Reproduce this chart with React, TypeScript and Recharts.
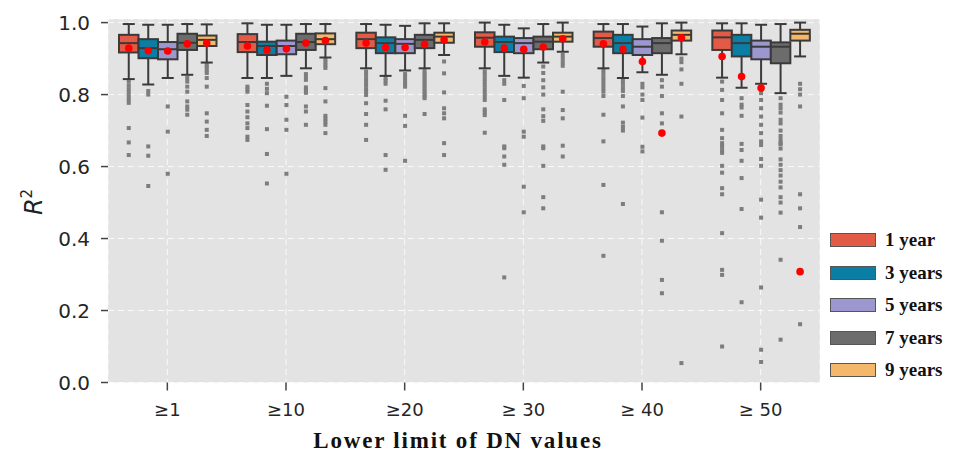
import { BarChart, Bar, XAxis, YAxis, CartesianGrid } from 'recharts'

const GROUPS = ['≥1', '≥10', '≥20', '≥ 30', '≥ 40', '≥ 50']
const SERIES = ['1 year', '3 years', '5 years', '7 years', '9 years']
const COLORS = ['#E35A46', '#0A7EA4', '#9D97D0', '#6C6C6C', '#F3B869']
const Y_TICKS = [0, 0.2, 0.4, 0.6, 0.8, 1.0]

// box stats, one row per series, one value per group
const HIGH = [
  [0.996, 0.998, 0.996, 1.0, 0.996, 0.998],
  [0.994, 0.994, 0.994, 0.994, 0.996, 0.998],
  [0.994, 0.994, 0.991, 0.984, 0.989, 0.994],
  [0.996, 0.996, 0.998, 0.996, 0.998, 0.996],
  [0.995, 0.996, 0.998, 1.0, 1.0, 1.0],
]
const Q3 = [
  [0.966, 0.968, 0.972, 0.973, 0.975, 0.978],
  [0.954, 0.947, 0.959, 0.961, 0.966, 0.966],
  [0.946, 0.95, 0.954, 0.957, 0.954, 0.95],
  [0.969, 0.969, 0.966, 0.961, 0.957, 0.945],
  [0.964, 0.97, 0.972, 0.972, 0.978, 0.98],
]
const MEDIAN = [
  [0.943, 0.946, 0.954, 0.958, 0.957, 0.959],
  [0.929, 0.935, 0.943, 0.946, 0.943, 0.943],
  [0.926, 0.935, 0.941, 0.943, 0.933, 0.933],
  [0.944, 0.946, 0.952, 0.947, 0.943, 0.933],
  [0.952, 0.954, 0.961, 0.961, 0.966, 0.969],
]
const Q1 = [
  [0.917, 0.918, 0.929, 0.933, 0.933, 0.924],
  [0.901, 0.91, 0.915, 0.918, 0.915, 0.906],
  [0.898, 0.912, 0.915, 0.915, 0.91, 0.898],
  [0.924, 0.924, 0.929, 0.926, 0.915, 0.887],
  [0.935, 0.94, 0.944, 0.947, 0.95, 0.95],
]
const LOW = [
  [0.843, 0.846, 0.873, 0.873, 0.873, 0.847],
  [0.828, 0.846, 0.852, 0.852, 0.846, 0.819],
  [0.846, 0.852, 0.867, 0.847, 0.862, 0.83],
  [0.855, 0.873, 0.873, 0.889, 0.855, 0.804],
  [0.889, 0.903, 0.91, 0.919, 0.912, 0.906],
]
const MEAN: (number | null)[][] = [
  [0.929, 0.935, 0.943, 0.946, 0.941, 0.906],
  [0.922, 0.924, 0.931, 0.929, 0.926, 0.85],
  [0.921, 0.927, 0.931, 0.926, 0.892, 0.818],
  [0.941, 0.943, 0.94, 0.932, 0.693, null],
  [0.943, 0.95, 0.952, 0.955, 0.958, 0.308],
]

// outliers per series, one list per group
const OUT_1Y = [
  [0.836, 0.825, 0.815, 0.805, 0.795, 0.785, 0.777, 0.707, 0.667, 0.632],
  [0.822, 0.815, 0.808, 0.771, 0.753, 0.737, 0.72, 0.707, 0.683, 0.674],
  [0.864, 0.855, 0.845, 0.835, 0.825, 0.815, 0.808, 0.799, 0.776, 0.746, 0.716, 0.674],
  [0.864, 0.855, 0.845, 0.835, 0.825, 0.815, 0.805, 0.795, 0.785, 0.759, 0.751, 0.743, 0.694],
  [0.868, 0.858, 0.848, 0.838, 0.828, 0.818, 0.808, 0.796, 0.744, 0.67, 0.549, 0.352],
  [0.836, 0.813, 0.785, 0.748, 0.702, 0.679, 0.665, 0.655, 0.645, 0.638, 0.602, 0.583, 0.54, 0.523, 0.415, 0.313, 0.299, 0.1],
]
const OUT_3Y = [
  [0.81, 0.8, 0.656, 0.63, 0.546],
  [0.83, 0.816, 0.804, 0.769, 0.704, 0.635, 0.553],
  [0.846, 0.838, 0.83, 0.783, 0.759, 0.632, 0.591],
  [0.84, 0.83, 0.785, 0.656, 0.651, 0.628, 0.605, 0.292],
  [0.84, 0.83, 0.82, 0.81, 0.796, 0.767, 0.722, 0.71, 0.7, 0.496],
  [0.79, 0.772, 0.764, 0.741, 0.663, 0.646, 0.616, 0.568, 0.482, 0.223],
]
const OUT_5Y = [
  [0.767, 0.697, 0.58],
  [0.794, 0.771, 0.73, 0.702, 0.58],
  [0.857, 0.848, 0.838, 0.83, 0.822, 0.741, 0.713, 0.616],
  [0.824, 0.79, 0.697, 0.683, 0.544, 0.473],
  [0.83, 0.82, 0.8, 0.785, 0.736, 0.655, 0.642],
  [0.804, 0.785, 0.762, 0.739, 0.716, 0.693, 0.67, 0.66, 0.621, 0.602, 0.508, 0.458, 0.264, 0.091, 0.057],
]
const OUT_7Y = [
  [0.846, 0.836, 0.822, 0.808, 0.781, 0.767, 0.758, 0.744],
  [0.857, 0.849, 0.841, 0.82, 0.812, 0.805, 0.767, 0.753, 0.716],
  [0.865, 0.858, 0.851, 0.844, 0.837, 0.83, 0.823, 0.816, 0.809, 0.802, 0.795, 0.79, 0.746],
  [0.878, 0.86, 0.84, 0.82, 0.8, 0.759, 0.74, 0.727, 0.656, 0.651, 0.602, 0.515, 0.484],
  [0.84, 0.822, 0.796, 0.748, 0.72, 0.473, 0.394, 0.285, 0.248],
  [0.79, 0.772, 0.762, 0.75, 0.73, 0.72, 0.7, 0.685, 0.674, 0.665, 0.662, 0.65, 0.62, 0.605, 0.59, 0.575, 0.558, 0.542, 0.515, 0.5, 0.472, 0.341, 0.119],
]
const OUT_9Y = [
  [0.882, 0.875, 0.867, 0.86, 0.846, 0.822, 0.748, 0.725, 0.702, 0.685],
  [0.897, 0.889, 0.881, 0.874, 0.818, 0.781, 0.741, 0.733, 0.725, 0.716, 0.693],
  [0.892, 0.859, 0.806, 0.762, 0.748, 0.734, 0.665, 0.632],
  [0.91, 0.9, 0.89, 0.88, 0.808, 0.757, 0.734, 0.658, 0.628],
  [0.9, 0.89, 0.87, 0.83, 0.739, 0.054],
  [0.83, 0.815, 0.8, 0.767, 0.523, 0.484, 0.432, 0.162],
]
const OUTLIERS = [OUT_1Y, OUT_3Y, OUT_5Y, OUT_7Y, OUT_9Y]

const EDGE = '#3a3a3a'

// each bar spans [lowest point, upper whisker]; the shape draws the box inside it
const data = GROUPS.map((group, gi) => {
  const row: any = { group }
  SERIES.forEach((_, si) => {
    const m = MEAN[si][gi]
    const lo = Math.min(LOW[si][gi], ...OUTLIERS[si][gi], m ?? 1)
    row['s' + si] = [lo, HIGH[si][gi]]
  })
  return row
})

const makeBox = (si: number) => (props: any) => {
  const { x, y, width, height, payload } = props
  const gi = GROUPS.indexOf(payload.group)
  const [lo, hi] = payload['s' + si]
  const top = Math.min(y, y + height)
  const bot = Math.max(y, y + height)
  const py = (v: number) => top + ((hi - v) / (hi - lo)) * (bot - top)
  const cx = x + width / 2
  const cap = 6
  const mean = MEAN[si][gi]
  return (
    <g>
      {OUTLIERS[si][gi].map((v, i) => (
        <rect key={i} x={cx - 2} y={py(v) - 2} width={4} height={4} fill="#7d7d7d" />
      ))}
      <line x1={cx} x2={cx} y1={py(HIGH[si][gi])} y2={py(Q3[si][gi])} stroke={EDGE} strokeWidth={2} />
      <line x1={cx} x2={cx} y1={py(Q1[si][gi])} y2={py(LOW[si][gi])} stroke={EDGE} strokeWidth={2} />
      <line x1={cx - cap} x2={cx + cap} y1={py(HIGH[si][gi])} y2={py(HIGH[si][gi])} stroke={EDGE} strokeWidth={2} />
      <line x1={cx - cap} x2={cx + cap} y1={py(LOW[si][gi])} y2={py(LOW[si][gi])} stroke={EDGE} strokeWidth={2} />
      <rect
        x={x}
        y={py(Q3[si][gi])}
        width={width}
        height={py(Q1[si][gi]) - py(Q3[si][gi])}
        fill={COLORS[si]}
        stroke={EDGE}
        strokeWidth={2}
      />
      <line x1={x} x2={x + width} y1={py(MEDIAN[si][gi])} y2={py(MEDIAN[si][gi])} stroke={EDGE} strokeWidth={2} />
      {mean != null && <circle cx={cx} cy={py(mean)} r={3.8} fill="#ff0000" />}
    </g>
  )
}

const tickFont = { fontSize: 20, fontFamily: 'DejaVu Sans', fill: '#262626' }

export default function App() {
  return (
    <div style={{ position: 'relative', width: 941, height: 445 }}>
      <BarChart
        width={941}
        height={445}
        data={data}
        margin={{ top: 11, right: 129, left: 0, bottom: 40.5 }}
        barSize={19.5}
        barGap={0}
      >
        <CartesianGrid fill="#E3E3E3" stroke="#ffffff" strokeDasharray="6 4" strokeOpacity={0.8} />
        <XAxis
          dataKey="group"
          height={30}
          axisLine={false}
          tickSize={8}
          tickMargin={13}
          tickLine={{ stroke: '#444', strokeWidth: 1.5 }}
          tick={{ ...tickFont, fontSize: 18 }}
          label={(p: any) => {
            const vb = p.viewBox
            return (
              <text
                x={vb.x + vb.width / 2 - 6}
                y={vb.y + vb.height + 35}
                textAnchor="middle"
                fontFamily="Liberation Serif"
                fontWeight="bold"
                fontSize={23}
                letterSpacing={1.8}
                fill="#111"
              >
                Lower limit of DN values
              </text>
            )
          }}
        />
        <YAxis
          width={100}
          domain={[0, 1.01]}
          ticks={Y_TICKS}
          tickFormatter={(v: number) => v.toFixed(1)}
          axisLine={false}
          tickSize={7}
          tickMargin={11}
          tickLine={{ stroke: '#444', strokeWidth: 1.5 }}
          tick={tickFont}
          label={() => (
            <text
              transform="translate(34,194) rotate(-90)"
              textAnchor="middle"
              fontFamily="DejaVu Sans"
              fontSize={24}
              fill="#222"
            >
              <tspan fontStyle="italic">R</tspan>
              <tspan fontSize={15} dy={-10}>2</tspan>
            </text>
          )}
        />
        {SERIES.map((name, si) => (
          <Bar key={name} dataKey={'s' + si} name={name} fill={COLORS[si]} shape={makeBox(si)} isAnimationActive={false} />
        ))}
      </BarChart>
      <div style={{ position: 'absolute', left: 822, top: 225 }}>
        {SERIES.map((name, si) => (
          <div key={name} style={{ display: 'flex', alignItems: 'center', height: 32.6 }}>
            <div
              style={{
                width: 44,
                height: 12,
                background: COLORS[si],
                border: '1px solid #555',
                marginRight: 9,
                alignSelf: 'flex-start',
              }}
            />
            <span
              style={{
                fontFamily: 'Liberation Serif',
                fontWeight: 'bold',
                fontSize: 19,
                color: '#111',
                lineHeight: '14px',
                alignSelf: 'flex-start',
              }}
            >
              {name}
            </span>
          </div>
        ))}
      </div>
    </div>
  )
}
